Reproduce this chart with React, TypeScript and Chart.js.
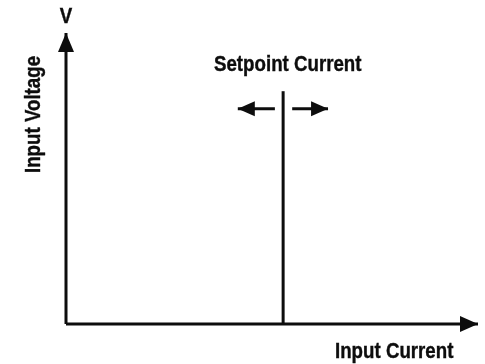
import React, { useEffect, useRef } from "react";
import { Chart, registerables } from "chart.js";

Chart.register(...registerables);

// Data (abstract units)
const X_MAX = 10;
const Y_MAX = 10;
const SETPOINT_X = 5.27;
const SETPOINT_TOP = 8.0;
const ARROW_Y = 7.4;
const LEFT_ARROW = [5.07, 4.17];
const RIGHT_ARROW = [5.49, 6.36];

const Y_LABEL_TOP = "V";
const Y_AXIS_TITLE = "Input Voltage";
const X_AXIS_TITLE = "Input Current";
const SETPOINT_LABEL = "Setpoint Current";

const INK = "#0d0d0d";
const FONT = 'bold 22px "Liberation Sans", Arial, sans-serif';
const NARROW = 0.85;

const arrowPlugin = {
  id: "arrowsAndLabels",
  afterDatasetsDraw(chart: any) {
    const ctx = chart.ctx;
    chart.data.datasets.forEach((ds: any, i: number) => {
      if (!ds.arrow) return;
      const meta = chart.getDatasetMeta(i);
      const pts = meta.data;
      if (pts.length < 2) return;
      const a = pts[pts.length - 2];
      const b = pts[pts.length - 1];
      const ang = Math.atan2(b.y - a.y, b.x - a.x);
      const len = ds.arrow.len;
      const half = ds.arrow.half;
      ctx.save();
      ctx.translate(b.x, b.y);
      ctx.rotate(ang);
      ctx.beginPath();
      ctx.moveTo(0, 0);
      ctx.lineTo(-len, -half);
      ctx.lineTo(-len, half);
      ctx.closePath();
      ctx.fillStyle = INK;
      ctx.fill();
      ctx.restore();
    });

    const text = (s: string, x: number, y: number, rot = 0, align: CanvasTextAlign = "left") => {
      ctx.save();
      ctx.fillStyle = INK;
      ctx.strokeStyle = INK;
      ctx.lineWidth = 0.4;
      ctx.font = FONT;
      ctx.textBaseline = "alphabetic";
      ctx.textAlign = align;
      ctx.translate(x, y);
      ctx.rotate(rot);
      ctx.scale(NARROW, 1);
      ctx.fillText(s, 0, 0);
      ctx.strokeText(s, 0, 0);
      ctx.restore();
    };
    text(Y_LABEL_TOP, 66, 23, 0, "center");
    text(SETPOINT_LABEL, 214, 71);
    text(X_AXIS_TITLE, 335, 358);
    text(Y_AXIS_TITLE, 40, 173, -Math.PI / 2);
  },
};

export default function App() {
  const ref = useRef<HTMLCanvasElement>(null);
  useEffect(() => {
    if (!ref.current) return;
    const lineDs = (data: { x: number; y: number }[], arrow?: any) => ({
      data,
      borderColor: INK,
      borderWidth: 3,
      pointRadius: 0,
      showLine: true,
      fill: false,
      clip: false,
      arrow,
      borderCapStyle: "butt",
    });
    const chart = new Chart(ref.current, {
      type: "scatter",
      data: {
        datasets: [
          lineDs([{ x: 0, y: 0 }, { x: 0, y: Y_MAX }], { len: 19, half: 8 }) as any,
          lineDs([{ x: 0, y: 0 }, { x: X_MAX, y: 0 }], { len: 18, half: 8 }) as any,
          lineDs([{ x: SETPOINT_X, y: 0 }, { x: SETPOINT_X, y: SETPOINT_TOP }]) as any,
          lineDs([{ x: LEFT_ARROW[0], y: ARROW_Y }, { x: LEFT_ARROW[1], y: ARROW_Y }], { len: 17, half: 7.5 }) as any,
          lineDs([{ x: RIGHT_ARROW[0], y: ARROW_Y }, { x: RIGHT_ARROW[1], y: ARROW_Y }], { len: 17, half: 7.5 }) as any,
        ],
      },
      options: {
        animation: false,
        responsive: false,
        layout: { padding: { left: 66, right: 7, top: 33, bottom: 40 } },
        plugins: { legend: { display: false }, tooltip: { enabled: false } },
        scales: {
          x: { type: "linear", min: 0, max: X_MAX, display: false },
          y: { type: "linear", min: 0, max: Y_MAX, display: false },
        },
      },
      plugins: [arrowPlugin],
    });
    return () => chart.destroy();
  }, []);
  return (
    <div style={{ position: "fixed", left: 0, top: 0, width: 485, height: 364, background: "#fff" }}>
      <canvas ref={ref} width={485} height={364} style={{ width: 485, height: 364 }} />
    </div>
  );
}
